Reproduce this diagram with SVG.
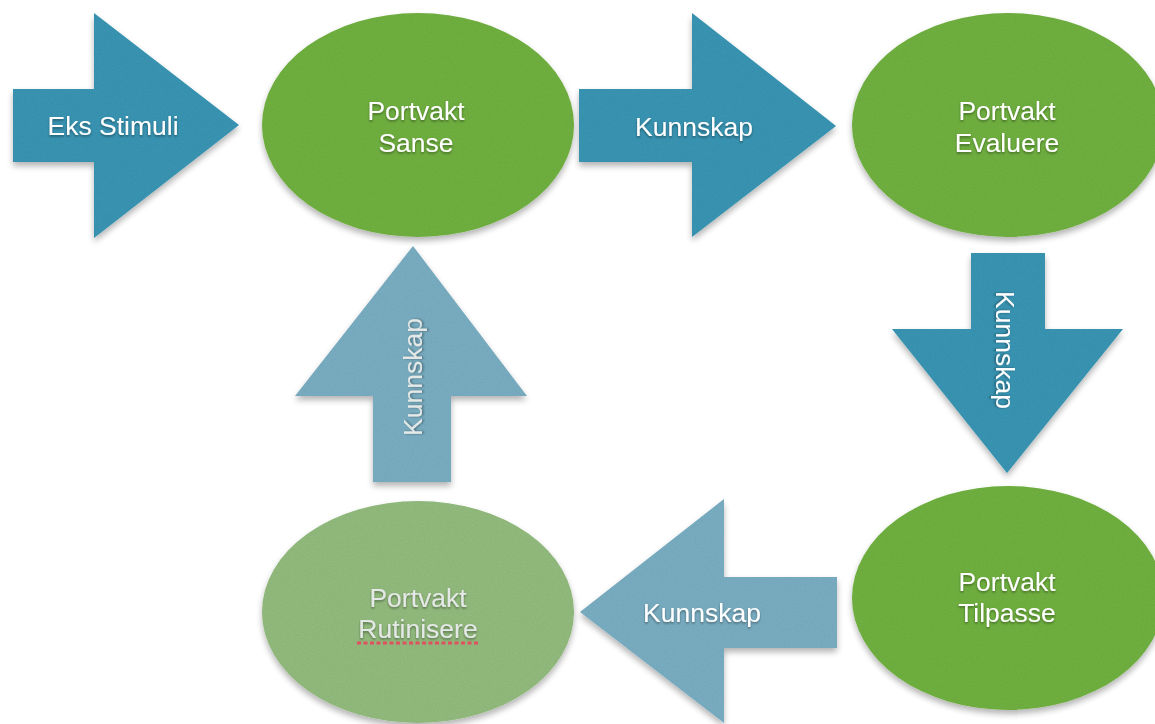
<svg xmlns="http://www.w3.org/2000/svg" width="1155" height="724" viewBox="0 0 1155 724">
  <defs>
    <filter id="shape" x="-10%" y="-10%" width="120%" height="130%">
      <feTurbulence type="fractalNoise" baseFrequency="0.9" numOctaves="2" seed="3" result="noise"/>
      <feColorMatrix in="noise" type="matrix" values="0 0 0 0 0  0 0 0 0 0  0 0 0 0 0  0 0 0 0.16 0" result="dark"/>
      <feComposite in="dark" in2="SourceGraphic" operator="in" result="grain"/>
      <feMerge result="textured"><feMergeNode in="SourceGraphic"/><feMergeNode in="grain"/></feMerge>
      <feGaussianBlur in="SourceAlpha" stdDeviation="3" result="blur"/>
      <feOffset in="blur" dy="4" result="off"/>
      <feComponentTransfer in="off" result="shadow"><feFuncA type="linear" slope="0.3"/></feComponentTransfer>
      <feMerge><feMergeNode in="shadow"/><feMergeNode in="textured"/></feMerge>
    </filter>
    <filter id="txt" x="-10%" y="-30%" width="120%" height="160%">
      <feDropShadow dx="0" dy="1.5" stdDeviation="1.2" flood-color="#000" flood-opacity="0.4"/>
    </filter>
  </defs>
  <style>
    .dark { fill: #3a97b6; filter: url(#shape); }
    .light { fill: #7cb0c5; filter: url(#shape); }
    .green { fill: #72b343; filter: url(#shape); }
    .faded { fill: #95be80; filter: url(#shape); }
    text { font-family: "Liberation Sans", Arial, sans-serif; font-size: 26.5px; fill: #ffffff; text-anchor: middle; filter: url(#txt); }
    .pale { fill: #e4e8e6; }
  </style>
  <rect width="1155" height="724" fill="#ffffff"/>

  <g id="connectors">
    <g id="arrow-eks">
      <polygon class="dark" points="13,89 94,89 94,13 239,125 94,238 94,162 13,162"/>
      <text x="113" y="135">Eks Stimuli</text>
    </g>
    <g id="arrow-k1">
      <polygon class="dark" points="579,89 692,89 692,13 836,126 692,237 692,162 579,162"/>
      <text x="694" y="136">Kunnskap</text>
    </g>
    <g id="arrow-k2">
      <polygon class="dark" points="971,253 1045,253 1045,329 1123,329 1007,473 892,329 971,329"/>
      <text transform="translate(996,350) rotate(90)">Kunnskap</text>
    </g>
    <g id="arrow-k3">
      <polygon class="light" points="837,577 724,577 724,499 580,612 724,723 724,648 837,648"/>
      <text x="702" y="622">Kunnskap</text>
    </g>
    <g id="arrow-k4">
      <polygon class="light" points="373,482 451,482 451,396 527,396 413,246 295,396 373,396"/>
      <text class="pale" transform="translate(422,377) rotate(-90)">Kunnskap</text>
    </g>
  </g>

  <g id="node-sanse">
    <ellipse class="green" cx="418" cy="125" rx="156" ry="112"/>
    <text x="416" y="120">Portvakt</text>
    <text x="416" y="152">Sanse</text>
  </g>
  <g id="node-evaluere">
    <ellipse class="green" cx="1008" cy="125" rx="156" ry="112"/>
    <text x="1007" y="120">Portvakt</text>
    <text x="1007" y="152">Evaluere</text>
  </g>
  <g id="node-tilpasse">
    <ellipse class="green" cx="1008" cy="598" rx="156" ry="112"/>
    <text x="1007" y="591">Portvakt</text>
    <text x="1007" y="622">Tilpasse</text>
  </g>
  <g id="node-rutinisere">
    <ellipse class="faded" cx="418" cy="612" rx="156" ry="111"/>
    <text class="pale" x="418" y="607">Portvakt</text>
    <text class="pale" x="418" y="638">Rutinisere</text>
    <line x1="357" y1="643" x2="480" y2="643" stroke="#e0505e" stroke-width="3" stroke-dasharray="4 2.5"/>
  </g>
</svg>
